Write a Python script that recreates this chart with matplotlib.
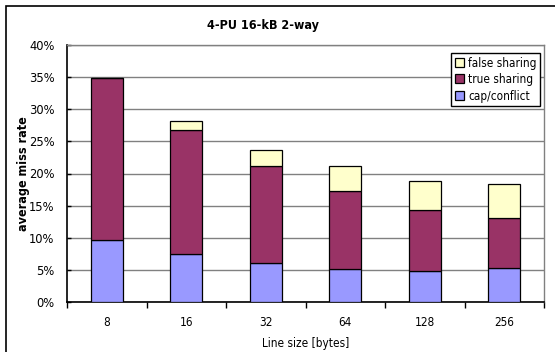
import matplotlib
matplotlib.use("Agg")
import matplotlib.pyplot as plt
from matplotlib.patches import Rectangle
from matplotlib.ticker import FixedLocator, FuncFormatter

categories = ["8", "16", "32", "64", "128", "256"]
cap_conflict = [9.7, 7.4, 6.0, 5.1, 4.9, 5.3]
true_sharing = [25.1, 19.3, 15.1, 12.1, 9.45, 7.8]
false_sharing = [0.1, 1.4, 2.5, 3.9, 4.45, 5.2]

plt.rcParams['font.family'] = ['DejaVu Sans']
plt.rcParams['font.stretch'] = 'condensed'
fig = plt.figure(figsize=(5.55, 3.52), dpi=100)
ax = fig.add_axes([67/555, 1-302/352, 477/555, 257/352])

x = list(range(len(categories)))
w = 0.40
c_blue, c_purple, c_yellow = "#9999FF", "#993366", "#FFFFCC"
ax.bar(x, cap_conflict, w, color=c_blue, edgecolor="black", linewidth=0.9, label="cap/conflict", zorder=3)
bottom2 = cap_conflict
ax.bar(x, true_sharing, w, bottom=bottom2, color=c_purple, edgecolor="black", linewidth=0.9, label="true sharing", zorder=3)
bottom3 = [a + b for a, b in zip(cap_conflict, true_sharing)]
ax.bar(x, false_sharing, w, bottom=bottom3, color=c_yellow, edgecolor="black", linewidth=0.9, label="false sharing", zorder=3)

ax.set_xlim(-0.5, len(categories) - 0.5)
ax.set_ylim(0, 40)
ax.set_yticks(range(0, 41, 5))
ax.yaxis.set_major_formatter(FuncFormatter(lambda v, p: f"{int(v)}%"))
ax.yaxis.grid(True, color="#808080", linewidth=1.0, zorder=0)
ax.set_xticks(x)
ax.set_xticklabels(categories)
ax.xaxis.set_minor_locator(FixedLocator([i + 0.5 for i in range(-1, len(categories))]))
ax.tick_params(axis="x", which="major", length=0, pad=10, labelsize=8.5)
ax.tick_params(axis="x", which="minor", length=4, direction="out", width=1)
ax.tick_params(axis="y", length=3, direction="in", width=1, labelsize=8.3, pad=9)
for t in ax.get_yticklabels():
    t.set_fontstretch('normal')
for s in ["top", "right"]:
    ax.spines[s].set_color("#808080")
    ax.spines[s].set_linewidth(1.0)
for s in ["left", "bottom"]:
    ax.spines[s].set_color("black")
    ax.spines[s].set_linewidth(1.2)

ax.set_xlabel("Line size [bytes]", fontsize=8.5, labelpad=6)
ax.set_ylabel("average miss rate", fontsize=9, fontweight="bold", labelpad=-1)
fig.text(263/555, 1-26/352, "4-PU 16-kB 2-way", ha="center", va="center", fontsize=9, fontweight="bold")

h, l = ax.get_legend_handles_labels()
leg = ax.legend(h[::-1], l[::-1], loc="upper right", bbox_to_anchor=(1 - 4/477, 1 - 8/257), fontsize=8.5,
                frameon=True, fancybox=False, edgecolor="black", framealpha=1,
                handlelength=0.8, handleheight=0.8, handletextpad=0.3, borderpad=0.3, labelspacing=0.3, borderaxespad=0)
leg.get_frame().set_linewidth(1.0)
leg.set_zorder(5)

fig.patches.append(Rectangle((6/555, -0.01), 1.0, 1 - 6/352 + 0.01, transform=fig.transFigure,
                             fill=False, edgecolor="black", linewidth=1.2))
fig.savefig("out.png", dpi=100)
